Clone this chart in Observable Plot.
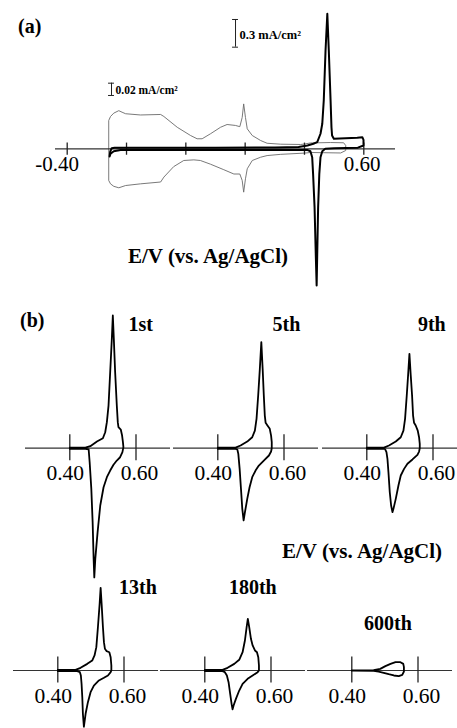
<!DOCTYPE html>
<html><head><meta charset="utf-8">
<script src="https://cdn.jsdelivr.net/npm/d3@7"></script>
<script src="https://cdn.jsdelivr.net/npm/@observablehq/plot@0.6"></script>
<style>
html,body{margin:0;padding:0;background:#fff;overflow:hidden}
#fig{position:relative;width:457px;height:728px;background:#fff;font-family:"Liberation Serif","DejaVu Serif",serif;color:#000;overflow:hidden}
.panel{position:absolute}
.panel svg{overflow:visible;max-width:none;display:block}
.lbl{position:absolute;font-weight:bold;white-space:nowrap;line-height:1}
</style></head><body><div id="fig"></div><script>
// ---------------- DATA ----------------
// Panel (a): electrode CV (thick, mA/cm2) and blank CV (thin, mA/cm2)
const cvA = [[-0.257,-0.083],[-0.255,-0.03],[-0.25,0.006],[-0.24,0.012],[-0.1,0.012],[0.1,0.012],[0.30,0.014],[0.38,0.02],[0.41,0.035],[0.43,0.055],[0.443,0.072],[0.454,0.163],[0.460,0.271],[0.465,0.523],[0.471,1.065],[0.477,1.463],[0.482,1.065],[0.488,0.523],[0.491,0.234],[0.493,0.144],[0.499,0.108],[0.578,0.119],[0.595,0.126],[0.599,0.097],[0.599,0.036],[0.58,0.012],[0.50,0.007],[0.47,0.0],[0.460,-0.026],[0.454,-0.091],[0.450,-0.271],[0.446,-0.633],[0.443,-1.138],[0.441,-1.481],[0.438,-1.138],[0.434,-0.633],[0.429,-0.271],[0.426,-0.091],[0.420,-0.026],[0.409,-0.012],[0.30,-0.012],[0.0,-0.012],[-0.20,-0.012],[-0.22,-0.014],[-0.243,-0.026],[-0.254,-0.054],[-0.257,-0.083]];
const blankA = [[-0.260,0.0],[-0.260,0.046],[-0.254,0.0525],[-0.243,0.058],[-0.226,0.062],[-0.215,0.0595],[-0.203,0.057],[-0.153,0.055],[-0.085,0.0558],[-0.074,0.0525],[-0.029,0.035],[0.016,0.0216],[0.038,0.0163],[0.055,0.0163],[0.083,0.0244],[0.117,0.035],[0.139,0.0395],[0.167,0.038],[0.182,0.036],[0.190,0.051],[0.195,0.073],[0.201,0.051],[0.207,0.0325],[0.224,0.0216],[0.252,0.0135],[0.274,0.009],[0.32,0.0075],[0.387,0.007],[0.403,0.008],[0.42,0.0095],[0.488,0.0102],[0.532,0.0098],[0.539,0.0054],[0.539,-0.0028],[0.522,-0.0068],[0.421,-0.006],[0.40,-0.007],[0.32,-0.009],[0.274,-0.011],[0.252,-0.0137],[0.224,-0.019],[0.207,-0.0325],[0.201,-0.0488],[0.195,-0.0705],[0.190,-0.0515],[0.182,-0.041],[0.162,-0.041],[0.128,-0.034],[0.083,-0.025],[0.049,-0.019],[0.027,-0.018],[-0.007,-0.019],[-0.041,-0.029],[-0.074,-0.046],[-0.085,-0.054],[-0.153,-0.057],[-0.203,-0.0597],[-0.226,-0.0634],[-0.243,-0.061],[-0.254,-0.057],[-0.260,-0.0515],[-0.260,0]];
const ticksA = [-0.4,-0.2,0,0.2,0.4,0.6];
const tickLabelsA = ["-0.40","0.60"];
const labeledTicksA = [-0.4,0.6];

// Panel (b): cycles
const cycle1 = [[0.400,0.006],[0.447,0.006],[0.462,0.022],[0.482,0.072],[0.500,0.108],[0.507,0.173],[0.512,0.282],[0.517,0.462],[0.522,0.823],[0.527,1.185],[0.530,1.438],[0.533,1.185],[0.537,0.823],[0.542,0.462],[0.545,0.282],[0.547,0.228],[0.554,0.202],[0.558,0.137],[0.5605,0.065],[0.562,0.011],[0.559,-0.043],[0.552,-0.098],[0.542,-0.134],[0.532,-0.180],[0.522,-0.242],[0.512,-0.314],[0.502,-0.423],[0.492,-0.621],[0.484,-0.910],[0.477,-1.199],[0.474,-1.40],[0.472,-1.199],[0.469,-0.802],[0.465,-0.440],[0.460,-0.152],[0.457,-0.014],[0.447,-0.006],[0.400,-0.006]];
const cycle5 = [[0.400,0.006],[0.4536,0.006],[0.4688,0.029],[0.489,0.072],[0.504,0.119],[0.512,0.191],[0.517,0.318],[0.522,0.571],[0.527,0.860],[0.5315,1.149],[0.5355,0.860],[0.539,0.571],[0.542,0.354],[0.5445,0.275],[0.550,0.246],[0.557,0.210],[0.561,0.137],[0.563,0.065],[0.563,0.0],[0.561,-0.036],[0.5545,-0.079],[0.539,-0.134],[0.524,-0.188],[0.514,-0.242],[0.504,-0.314],[0.496,-0.423],[0.489,-0.549],[0.482,-0.693],[0.478,-0.783],[0.474,-0.657],[0.470,-0.440],[0.466,-0.224],[0.462,-0.061],[0.459,-0.014],[0.4536,-0.007],[0.400,-0.006]];
const cycle9 = [[0.400,0.006],[0.452,0.006],[0.467,0.029],[0.4875,0.072],[0.5026,0.119],[0.5107,0.191],[0.5156,0.318],[0.5207,0.571],[0.5247,0.787],[0.5288,1.022],[0.5328,0.787],[0.5368,0.571],[0.5398,0.354],[0.5428,0.275],[0.5478,0.246],[0.5539,0.191],[0.5579,0.119],[0.560,0.047],[0.560,0.0],[0.5579,-0.036],[0.553,-0.072],[0.538,-0.122],[0.5228,-0.169],[0.5126,-0.224],[0.5026,-0.296],[0.4956,-0.404],[0.4875,-0.549],[0.4805,-0.657],[0.4775,-0.693],[0.4735,-0.621],[0.4694,-0.477],[0.4654,-0.260],[0.4624,-0.115],[0.4594,-0.043],[0.4553,-0.011],[0.452,-0.006],[0.400,-0.006]];
const cycle13 = [[0.400,0.006],[0.4536,0.007],[0.4688,0.029],[0.489,0.072],[0.504,0.108],[0.511,0.163],[0.5164,0.253],[0.5212,0.469],[0.5264,0.722],[0.5294,0.896],[0.5324,0.722],[0.5364,0.469],[0.5394,0.307],[0.5424,0.235],[0.5476,0.209],[0.5557,0.198],[0.5597,0.144],[0.5618,0.054],[0.5618,0.0],[0.5597,-0.018],[0.5515,-0.054],[0.5394,-0.079],[0.5242,-0.108],[0.509,-0.163],[0.499,-0.235],[0.491,-0.343],[0.484,-0.469],[0.4788,-0.61],[0.4758,-0.469],[0.474,-0.289],[0.4718,-0.144],[0.4697,-0.054],[0.4667,-0.018],[0.4588,-0.007],[0.400,-0.006]];
const cycle180 = [[0.400,0.006],[0.4536,0.007],[0.4688,0.029],[0.489,0.072],[0.504,0.116],[0.5142,0.198],[0.5212,0.325],[0.5264,0.469],[0.530,0.560],[0.5342,0.469],[0.5394,0.343],[0.5445,0.271],[0.5515,0.217],[0.5576,0.198],[0.5616,0.144],[0.5636,0.054],[0.5636,0.0],[0.5597,-0.018],[0.5445,-0.054],[0.5294,-0.090],[0.5142,-0.144],[0.504,-0.217],[0.494,-0.307],[0.487,-0.379],[0.4839,-0.42],[0.4809,-0.361],[0.4767,-0.253],[0.4718,-0.127],[0.4667,-0.054],[0.4606,-0.018],[0.4536,-0.007],[0.400,-0.006]];
const cycle600 = [[0.400,0.002],[0.466,0.004],[0.486,0.018],[0.5015,0.047],[0.517,0.072],[0.532,0.090],[0.547,0.090],[0.5555,0.072],[0.5575,0.036],[0.5575,-0.011],[0.5525,-0.047],[0.542,-0.061],[0.527,-0.054],[0.5115,-0.040],[0.4965,-0.025],[0.481,-0.011],[0.466,-0.004],[0.400,-0.002]];
const cycleNames = ["1st","5th","9th","13th","180th","600th"];
const cycleSeries = [cycle1,cycle5,cycle9,cycle13,cycle180,cycle600];
const ticksB = [0.4,0.6];
const tickLabelsB = ["0.40","0.60"];
const scaleBars = [0.3, 0.02]; // mA/cm2
const scaleBarLabels = ["0.3 mA/cm²","0.02 mA/cm²"];

// ---------------- LAYOUT ----------------
const SERIF = "'Liberation Serif','DejaVu Serif',serif";
const PX = 92.3;      // px per mA/cm2 (thick scale)
const PXthin = 615;   // px per mA/cm2 (thin scale)
const fig = document.getElementById("fig");

function addPanel({left, top, width, height, xDomain, xRange, yDomain, yRange, marks}) {
  const div = document.createElement("div");
  div.className = "panel";
  Object.assign(div.style, {left: left + "px", top: top + "px", width: width + "px", height: height + "px"});
  div.appendChild(Plot.plot({
    width, height, margin: 0,
    x: {domain: xDomain, range: xRange, axis: null},
    y: {domain: yDomain, range: yRange, axis: null},
    style: {background: "transparent", overflow: "visible", fontFamily: SERIF, color: "#000"},
    marks
  }));
  fig.appendChild(div);
}
function label(text, left, baseline, fs) {
  const d = document.createElement("div");
  d.className = "lbl";
  d.textContent = text;
  Object.assign(d.style, {left: left + "px", top: (baseline - 0.84 * fs) + "px", fontSize: fs + "px"});
  fig.appendChild(d);
}
const line = (data, o) => Plot.line(data, {x: d => d[0], y: d => d[1], strokeLinejoin: "round", ...o});

// ---- Panel (a) ----
const aBox = {left: 55, top: 0, width: 340, height: 300, xDomain: [-0.4, 0.6], xRange: [11.7, 308.3]};
const aAxis = 148.3;
addPanel({...aBox,
  yDomain: [-0.2, 0.2], yRange: [aAxis + 0.2 * PXthin, aAxis - 0.2 * PXthin],
  marks: [
    line(blankA, {stroke: "#6a6a6a", strokeWidth: 0.9}),
    Plot.ruleX([-0.2506], {y1: () => 0.0867, y2: () => 0.0867 + scaleBars[1], stroke: "#222", strokeWidth: 1}),
    Plot.ruleY([0.0867, 0.0867 + scaleBars[1]], {x1: () => -0.2606, x2: () => -0.2406, stroke: "#222", strokeWidth: 1}),
    Plot.text([scaleBarLabels[1]], {x: () => -0.2506, y: () => 0.0894, text: d => d, dx: 4, textAnchor: "start", lineAnchor: "bottom", fontSize: 11.5, fontWeight: "bold", fontFamily: SERIF, fill: "#000"})
  ]});
addPanel({...aBox,
  yDomain: [-1.6, 1.6], yRange: [aAxis + 1.6 * PX, aAxis - 1.6 * PX],
  marks: [
    Plot.ruleY([0], {stroke: "#333", strokeWidth: 1.2}),
    Plot.ruleX(ticksA, {y1: () => -0.07, y2: () => 0.062, stroke: "#222", strokeWidth: 1.3}),
    line(cvA, {stroke: "#000", strokeWidth: 2}),
    ...labeledTicksA.map((t, k) => Plot.text([t], {x: d => d, y: () => 0, text: () => tickLabelsA[k], dx: [-10, -1.8][k], dy: 22.5, textAnchor: "middle", lineAnchor: "bottom", fontSize: 21, fontFamily: SERIF, fill: "#000"})),
    Plot.ruleX([0.1675], {y1: () => 1.101, y2: () => 1.101 + scaleBars[0], stroke: "#222", strokeWidth: 1}),
    Plot.ruleY([1.101, 1.101 + scaleBars[0]], {x1: () => 0.1575, x2: () => 0.1775, stroke: "#222", strokeWidth: 1}),
    Plot.text([scaleBarLabels[0]], {x: () => 0.1675, y: () => 1.195, text: d => d, dx: 4, textAnchor: "start", lineAnchor: "bottom", fontSize: 12.5, fontWeight: "bold", fontFamily: SERIF, fill: "#000"})
  ]});

// ---- Panel (b) ----
const rows = [{top: 305, height: 275, axis: 142.7, ymax: 1.6}, {top: 580, height: 148, axis: 90, ymax: 1.0}];
const subs = [
  {row: 0, left: 25.2, lx: 115.3, ly: 25},
  {row: 0, left: 173, lx: 113, ly: 25},
  {row: 0, left: 321.7, lx: 109.3, ly: 25},
  {row: 1, left: 13, lx: 124.5, ly: 13},
  {row: 1, left: 159.7, lx: 92.3, ly: 13},
  {row: 1, left: 307, lx: 80.5, ly: 49}
];
subs.forEach((s, k) => {
  const r = rows[s.row];
  addPanel({left: s.left, top: r.top, width: 145, height: r.height,
    xDomain: [0.4, 0.6], xRange: [44.3, 110.5],
    yDomain: [-r.ymax, r.ymax], yRange: [r.axis + r.ymax * PX, r.axis - r.ymax * PX],
    marks: [
      Plot.ruleY([0], {stroke: "#333", strokeWidth: 1.2}),
      Plot.ruleX(ticksB, {y1: () => -0.135, y2: () => 0.145, stroke: "#222", strokeWidth: 1.3}),
      line(cycleSeries[k], {stroke: "#000", strokeWidth: 1.8}),
      ...ticksB.map((t, j) => Plot.text([t], {x: d => d, y: () => 0, text: () => tickLabelsB[j], dx: [-4.5, 3.5][j], dy: 32, textAnchor: "middle", lineAnchor: "bottom", fontSize: 21.5, fontFamily: SERIF, fill: "#000"})),
      Plot.text([cycleNames[k]], {frameAnchor: "top-left", text: d => d, dx: s.lx, dy: s.ly, textAnchor: "middle", lineAnchor: "bottom", fontSize: 20, fontWeight: "bold", fontFamily: SERIF, fill: "#000"})
    ]});
});

// ---- Panel labels and axis titles ----
label("(a)", 18, 33, 20);
label("E/V (vs. Ag/AgCl)", 128, 264, 21);
label("(b)", 20, 327, 20);
label("E/V (vs. Ag/AgCl)", 282, 559, 21);
</script></body></html>
